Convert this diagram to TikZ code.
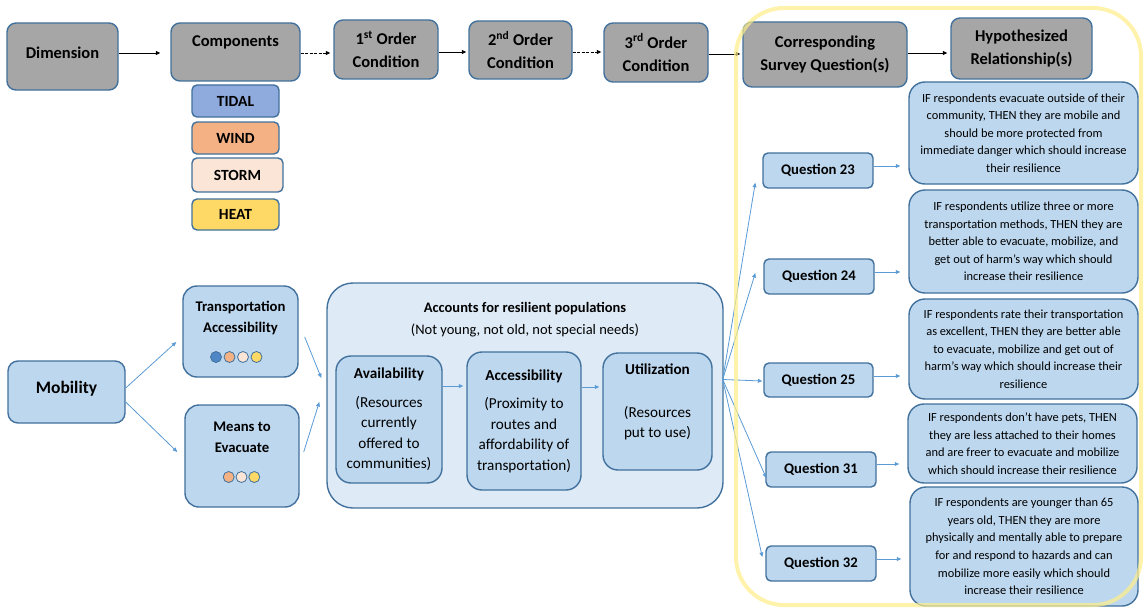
\documentclass[tikz,border=0pt]{standalone}
\usepackage{fontspec}
\setmainfont{Carlito}
\usetikzlibrary{calc,arrows.meta}

\definecolor{edge}{HTML}{41719C}
\definecolor{greyfill}{HTML}{A6A6A6}
\definecolor{paleblue}{HTML}{BDD7EE}
\definecolor{paleback}{HTML}{DEEBF7}
\definecolor{linkblue}{HTML}{5B9BD5}
\definecolor{tidalc}{HTML}{8FAADC}
\definecolor{windc}{HTML}{F4B183}
\definecolor{stormc}{HTML}{FBE5D6}
\definecolor{heatc}{HTML}{FFD966}
\definecolor{dotblue}{HTML}{4F86C6}
\definecolor{groupframe}{HTML}{FFEF8A}

\newcommand\hdrfont{\fontsize{16.5}{23}\selectfont\bfseries}
\newcommand\qfont{\fontsize{14.7}{21}\selectfont\bfseries}
\newcommand\hypfont{\fontsize{12.4}{17.6}\selectfont}
\newcommand\hazfont{\fontsize{15.5}{18}\selectfont\bfseries}
\newcommand\innerfont{\fontsize{15.2}{20.5}\selectfont}
\newcommand\bigfont{\fontsize{14.5}{22}\selectfont}

\tikzset{
  sz/.style 2 args={minimum width=#1pt, minimum height=#2pt},
  base/.style={draw=edge, line width=1.4pt, align=center, inner sep=0pt},
  greybox/.style={base, fill=greyfill, rounded corners=9pt, font=\hdrfont},
  hazard/.style={base, rounded corners=5pt, font=\hazfont},
  bluebox/.style={base, fill=paleblue, rounded corners=12pt},
  qbox/.style={base, fill=paleblue, rounded corners=5pt, font=\qfont},
  hypbox/.style={base, fill=paleblue, rounded corners=16pt, font=\hypfont},
  txt/.style={inner sep=0pt, align=center},
  dotc/.style={circle, draw=edge, line width=0.8pt, minimum size=11pt, inner sep=0pt},
  blk/.style={draw=black, line width=0.8pt, -{Triangle[length=4.5pt,width=4pt]}},
  blkdash/.style={blk, dash pattern=on 3pt off 1.5pt},
  lnk/.style={draw=linkblue, line width=0.8pt, -{Triangle[length=4.5pt,width=3.8pt]}},
}

\begin{document}
\begin{tikzpicture}[x=1pt,y=-1pt]
\fill[white] (0,0) rectangle (1146,610);
\useasboundingbox (0,0) rectangle (1146,610);

% header chain
\node[greybox, sz={111}{67}] (dim) at (62.5,56.5) {};
\node[txt, font=\hdrfont] (dimt) at (62.5,53) {Dimension};
\node[greybox, sz={129}{58}] (comp) at (235.5,52) {};
\node[txt, font=\hdrfont] (compt) at (235.5,42) {Components};
\node[greybox, sz={104}{59}] (o1) at (386,49.5) {1\textsuperscript{st} Order\\Condition};
\node[greybox, sz={103}{58}] (o2) at (520.5,50) {2\textsuperscript{nd} Order\\Condition};
\node[greybox, sz={104}{59}] (o3) at (656,52.5) {3\textsuperscript{rd} Order\\Condition};
\node[greybox, sz={164}{65}] (corr) at (825,54.5) {Corresponding\\Survey Question(s)};
\node[greybox, sz={141}{61}] (hyp) at (1021.5,48.5) {Hypothesized\\Relationship(s)};

% hazard components
\node[hazard, fill=tidalc, sz={87}{32}] (tidal) at (235.5,101) {TIDAL};
\node[hazard, fill=windc, sz={87}{32}] (wind) at (235.5,138) {WIND};
\node[hazard, fill=stormc, sz={91}{34}] (storm) at (237.5,175) {STORM};
\node[hazard, fill=heatc, sz={87}{31}] (heat) at (235.5,214.5) {HEAT};

% header arrows
\draw[blk, shorten >=10pt] ([yshift=3.5pt]dim.east) -- ([yshift=3.5pt]dim.east -| comp.west);
\draw[blkdash, shorten >=3pt] ([yshift=-1pt]comp.east) -- ([yshift=-1pt]comp.east -| o1.west);
\draw[blk, shorten >=2pt] ([yshift=-2.5pt]o1.east) -- ([yshift=-2.5pt]o1.east -| o2.west);
\draw[blkdash, shorten >=2pt] ([yshift=-2pt]o2.east) -- ([yshift=-2pt]o2.east -| o3.west);
\draw[blk, shorten >=2pt] ([yshift=-1.5pt]o3.east) -- ([yshift=-1.5pt]o3.east -| corr.west);
\draw[blk, shorten >=3pt] ([yshift=1.5pt]corr.east) -- ([yshift=1.5pt]corr.east -| hyp.west);

% mobility dimension
\node[bluebox, sz={117}{62}, font=\fontsize{17.5}{21}\selectfont\bfseries, rounded corners=10pt] (mob) at (66.5,392) {};
\node[txt, font=\fontsize{17.5}{21}\selectfont\bfseries] (mobt) at (66.5,389) {Mobility};
\node[bluebox, sz={115}{91}, rounded corners=14pt] (ta) at (240.5,331.5) {};
\node[txt, font=\qfont] (tat) at (240.5,318) {Transportation\\Accessibility};
\node[dotc, fill=dotblue] (ta1) at (216,357) {};
\node[dotc, fill=windc] (ta2) at (229.5,357) {};
\node[dotc, fill=stormc] (ta3) at (243,357) {};
\node[dotc, fill=heatc] (ta4) at (256.5,357) {};
\node[bluebox, sz={114}{102}, rounded corners=14pt] (me) at (242,456) {};
\node[txt, font=\qfont] (met) at (242,437) {Means to\\Evacuate};
\node[dotc, fill=windc] (me1) at (228.7,477) {};
\node[dotc, fill=stormc] (me2) at (241.5,477) {};
\node[dotc, fill=heatc] (me3) at (254.3,477) {};

% resilient populations group
\node[base, fill=paleback, sz={396}{225}, rounded corners=26pt] (big) at (525,395.5) {};
\node[txt, font=\bigfont] (bigt) at (525,320) {\textbf{Accounts for resilient populations}\\(Not young, not old, not special needs)};
\node[bluebox, sz={106}{127}, rounded corners=15pt, font=\innerfont] (av) at (389,419.5)
  {\textbf{Availability}\\[8pt](Resources\\currently\\offered to\\communities)};
\node[bluebox, sz={114}{138}, rounded corners=15pt, font=\innerfont] (ac) at (524,421)
  {\textbf{Accessibility}\\[8pt](Proximity to\\routes and\\affordability of\\transportation)};
\node[bluebox, sz={109}{117}, rounded corners=15pt] (ut) at (657.5,411.5) {};
\node[txt, font=\innerfont] (utt) at (657.5,402) {\textbf{Utilization}\\[22pt](Resources\\put to use)};

% survey questions
\node[qbox, sz={110}{35}] (q23) at (818,170.5) {Question 23};
\node[qbox, sz={110}{35}] (q24) at (819,276.5) {Question 24};
\node[qbox, sz={109}{34}] (q25) at (818.5,380) {Question 25};
\node[qbox, sz={110}{35}] (q31) at (821,469.5) {Question 31};
\node[qbox, sz={110}{35}] (q32) at (821,563.5) {Question 32};

% hypothesized relationships
\node[hypbox, sz={229}{102}] (h1) at (1023.5,133) {IF respondents evacuate outside of their\\community, THEN they are mobile and\\should be more protected from\\immediate danger which should increase\\their resilience};
\node[hypbox, sz={229}{103}] (h2) at (1023.5,241.5) {IF respondents utilize three or more\\transportation methods, THEN they are\\better able to evacuate, mobilize, and\\get out of harm’s way which should\\increase their resilience};
\node[hypbox, sz={229}{100}] (h3) at (1023.5,349) {IF respondents rate their transportation\\as excellent, THEN they are better able\\to evacuate, mobilize and get out of\\harm’s way which should increase their\\resilience};
\node[hypbox, sz={229}{79}] (h4) at (1022.5,443.5) {IF respondents don’t have pets, THEN\\they are less attached to their homes\\and are freer to evacuate and mobilize\\which should increase their resilience};
\node[hypbox, sz={228}{119}] (h5) at (1024,546.5) {IF respondents are younger than 65\\years old, THEN they are more\\physically and mentally able to prepare\\for and respond to hazards and can\\mobilize more easily which should\\increase their resilience};

% blue connectors
\draw[lnk] ($(mob.east)+(0,-4)$) -- ($(ta.west)+(-6,10.5)$);
\draw[lnk] ($(mob.east)+(0,10)$) -- ($(me.west)+(-7,-4)$);
\draw[lnk] ($(ta.east)+(6,5.5)$) -- ($(big.west)+(-5,-17.5)$);
\draw[lnk] ($(me.east)+(4,-4)$) -- ($(big.west)+(-7,6.5)$);
\draw[lnk, shorten >=3pt] ([yshift=33.5pt]av.east) -- ([yshift=33.5pt]av.east -| ac.west);
\draw[lnk, shorten >=3pt] ([yshift=34pt]ac.east) -- ([yshift=34pt]ac.east -| ut.west);

\coordinate (fan) at ($(big.east)+(-1,-16)$);
\draw[lnk] (fan) -- ($(q23.south west)+(-7,-6)$);
\draw[lnk] (fan) -- ($(q24.west)+(-8,-3.5)$);
\draw[lnk] (fan) -- ($(q25.west)+(-1,1)$);
\draw[lnk] (fan) -- ($(q31.west)+(1,8.5)$);
\draw[lnk] (fan) -- ($(q32.west)+(-3,-6.5)$);

\foreach \q/\h/\s in {q23/h1/4.5, q24/h2/4.5, q25/h3/4, q31/h4/5.5, q32/h5/4.5}
  \draw[lnk, shorten >=8pt] ([yshift=\s pt]\q.east) -- ([yshift=\s pt]\q.east -| \h.west);

% highlight frame around the survey columns
\node[draw=groupframe, line width=4pt, draw opacity=0.7, rounded corners=48pt, sz={405}{597}, inner sep=0pt] (qgroup) at (938.5,306.5) {};
\end{tikzpicture}
\end{document}
